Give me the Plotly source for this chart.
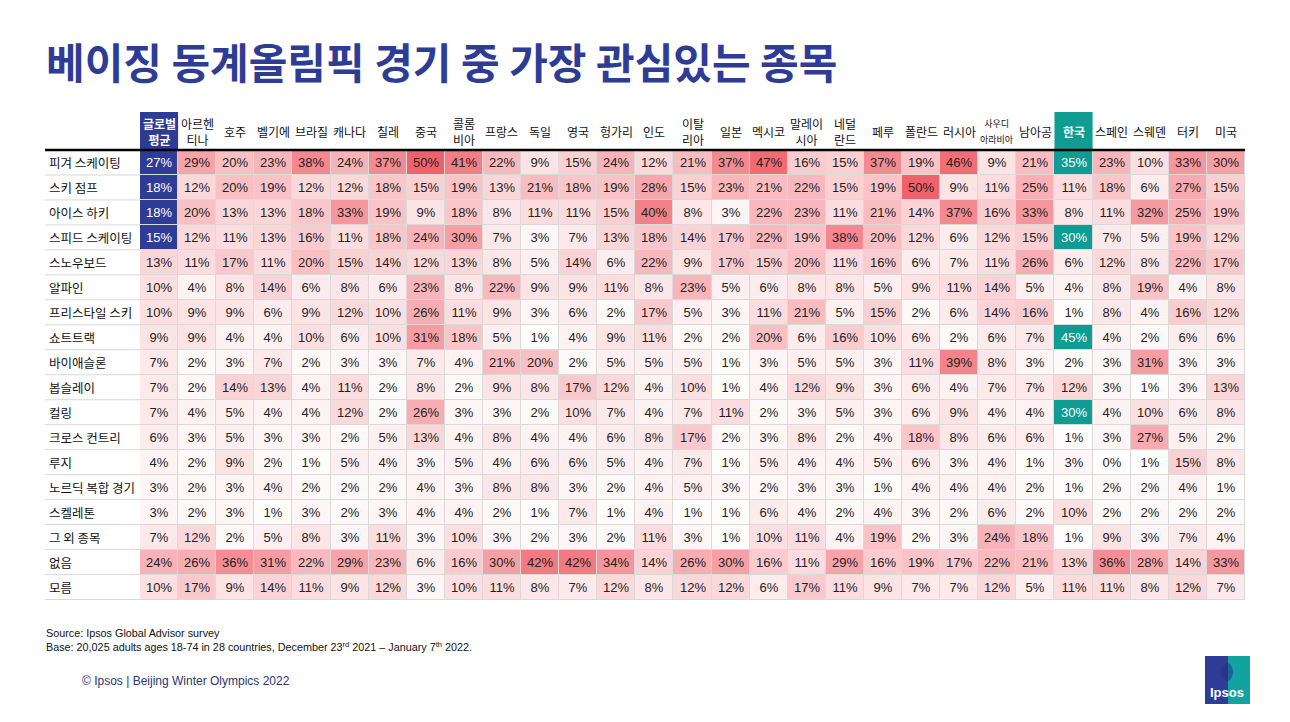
import plotly.graph_objects as go

# Columns (global average + 28 countries)
countries = ["글로벌 평균", "아르헨티나", "호주", "벨기에", "브라질", "캐나다", "칠레", "중국",
             "콜롬비아", "프랑스", "독일", "영국", "헝가리", "인도", "이탈리아", "일본",
             "멕시코", "말레이시아", "네덜란드", "페루", "폴란드", "러시아", "사우디아라비아",
             "남아공", "한국", "스페인", "스웨덴", "터키", "미국"]
header_labels = ["글로벌<br>평균", "아르헨<br>티나", "호주", "벨기에", "브라질", "캐나다", "칠레", "중국",
                 "콜롬<br>비아", "프랑스", "독일", "영국", "헝가리", "인도", "이탈<br>리아", "일본",
                 "멕시코", "말레이<br>시아", "네덜<br>란드", "페루", "폴란드", "러시아",
                 "<span style='font-size:9px'>사우디<br>아라비아</span>",
                 "남아공", "한국", "스페인", "스웨덴", "터키", "미국"]

sports = ["피겨 스케이팅", "스키 점프", "아이스 하키", "스피드 스케이팅", "스노우보드", "알파인",
          "프리스타일 스키", "쇼트트랙", "바이애슬론", "봅슬레이", "컬링", "크로스 컨트리", "루지",
          "노르딕 복합 경기", "스켈레톤", "그 외 종목", "없음", "모름"]

figure_skating = [27, 29, 20, 23, 38, 24, 37, 50, 41, 22, 9, 15, 24, 12, 21, 37, 47, 16, 15, 37, 19, 46, 9, 21, 35, 23, 10, 33, 30]
ski_jump = [18, 12, 20, 19, 12, 12, 18, 15, 19, 13, 21, 18, 19, 28, 15, 23, 21, 22, 15, 19, 50, 9, 11, 25, 11, 18, 6, 27, 15]
ice_hockey = [18, 20, 13, 13, 18, 33, 19, 9, 18, 8, 11, 11, 15, 40, 8, 3, 22, 23, 11, 21, 14, 37, 16, 33, 8, 11, 32, 25, 19]
speed_skating = [15, 12, 11, 13, 16, 11, 18, 24, 30, 7, 3, 7, 13, 18, 14, 17, 22, 19, 38, 20, 12, 6, 12, 15, 30, 7, 5, 19, 12]
snowboard = [13, 11, 17, 11, 20, 15, 14, 12, 13, 8, 5, 14, 6, 22, 9, 17, 15, 20, 11, 16, 6, 7, 11, 26, 6, 12, 8, 22, 17]
alpine = [10, 4, 8, 14, 6, 8, 6, 23, 8, 22, 9, 9, 11, 8, 23, 5, 6, 8, 8, 5, 9, 11, 14, 5, 4, 8, 19, 4, 8]
freestyle = [10, 9, 9, 6, 9, 12, 10, 26, 11, 9, 3, 6, 2, 17, 5, 3, 11, 21, 5, 15, 2, 6, 14, 16, 1, 8, 4, 16, 12]
short_track = [9, 9, 4, 4, 10, 6, 10, 31, 18, 5, 1, 4, 9, 11, 2, 2, 20, 6, 16, 10, 6, 2, 6, 7, 45, 4, 2, 6, 6]
biathlon = [7, 2, 3, 7, 2, 3, 3, 7, 4, 21, 20, 2, 5, 5, 5, 1, 3, 5, 5, 3, 11, 39, 8, 3, 2, 3, 31, 3, 3]
bobsleigh = [7, 2, 14, 13, 4, 11, 2, 8, 2, 9, 8, 17, 12, 4, 10, 1, 4, 12, 9, 3, 6, 4, 7, 7, 12, 3, 1, 3, 13]
curling = [7, 4, 5, 4, 4, 12, 2, 26, 3, 3, 2, 10, 7, 4, 7, 11, 2, 3, 5, 3, 6, 9, 4, 4, 30, 4, 10, 6, 8]
cross_country = [6, 3, 5, 3, 3, 2, 5, 13, 4, 8, 4, 4, 6, 8, 17, 2, 3, 8, 2, 4, 18, 8, 6, 6, 1, 3, 27, 5, 2]
luge = [4, 2, 9, 2, 1, 5, 4, 3, 5, 4, 6, 6, 5, 4, 7, 1, 5, 4, 4, 5, 6, 3, 4, 1, 3, 0, 1, 15, 8]
nordic_combined = [3, 2, 3, 4, 2, 2, 2, 4, 3, 8, 8, 3, 2, 4, 5, 3, 2, 3, 3, 1, 4, 4, 4, 2, 1, 2, 2, 4, 1]
skeleton = [3, 2, 3, 1, 3, 2, 3, 4, 4, 2, 1, 7, 1, 4, 1, 1, 6, 4, 2, 4, 3, 2, 6, 2, 10, 2, 2, 2, 2]
other = [7, 12, 2, 5, 8, 3, 11, 3, 10, 3, 2, 3, 2, 11, 3, 1, 10, 11, 4, 19, 2, 3, 24, 18, 1, 9, 3, 7, 4]
none_ = [24, 26, 36, 31, 22, 29, 23, 6, 16, 30, 42, 42, 34, 14, 26, 30, 16, 11, 29, 16, 19, 17, 22, 21, 13, 36, 28, 14, 33]
dont_know = [10, 17, 9, 14, 11, 9, 12, 3, 10, 11, 8, 7, 12, 8, 12, 12, 6, 17, 11, 9, 7, 7, 12, 5, 11, 11, 8, 12, 7]

values = [figure_skating, ski_jump, ice_hockey, speed_skating, snowboard, alpine, freestyle,
          short_track, biathlon, bobsleigh, curling, cross_country, luge, nordic_combined,
          skeleton, other, none_, dont_know]

# highlighted cells: top 4 of global average (blue) and of Korea (teal)
global_top = ["피겨 스케이팅", "스키 점프", "아이스 하키", "스피드 스케이팅"]
korea_top = ["피겨 스케이팅", "스피드 스케이팅", "쇼트트랙", "컬링"]

BLUE = "#2F3C96"
TEAL = "#0E9C93"
NUM_FONT = "Liberation Sans, Arial, sans-serif"
KR_FONT = "Noto Sans CJK KR, sans-serif"

# page body has an 8px margin, so the figure is laid out 8px in from the window edge
OFF = 8
W, H = 1290 - OFF, 722 - OFF
# plot area, in window pixels
L, R, T, B = 140, 1245, 150, 600


def px_x(px):
    return (px - L) / (R - L)


def px_y(py):
    return (B - py) / (B - T)


def highlight(col, top_rows):
    z, txt = [], []
    for s, row in zip(sports, values):
        v = row[countries.index(col)]
        zr = [None] * len(countries)
        tr = [""] * len(countries)
        if s in top_rows:
            zr[countries.index(col)] = 1
            tr[countries.index(col)] = f"{v}%"
        z.append(zr)
        txt.append(tr)
    return z, txt


fig = go.Figure()

fig.add_trace(go.Heatmap(
    z=values, x=countries, y=sports,
    zmin=0, zmax=50,
    colorscale=[[0, "#FFFFFF"], [1, "#F0616B"]],
    showscale=False, xgap=1, ygap=1,
    texttemplate="%{z}%", textfont=dict(family=NUM_FONT, size=13, color="#222222"),
    hoverinfo="skip",
))

for col, top_rows, color in [("글로벌 평균", global_top, BLUE), ("한국", korea_top, TEAL)]:
    hz, ht = highlight(col, top_rows)
    fig.add_trace(go.Heatmap(
        z=hz, x=countries, y=sports, text=ht,
        zmin=0, zmax=1, colorscale=[[0, color], [1, color]],
        showscale=False, xgap=1, ygap=1,
        texttemplate="%{text}", textfont=dict(family=NUM_FONT, size=13, color="white"),
        hoverinfo="skip",
    ))

shapes = []
annotations = []

# header boxes
for col, color in [("글로벌 평균", BLUE), ("한국", TEAL)]:
    i = countries.index(col)
    shapes.append(dict(type="rect", xref="x", yref="paper", x0=i - 0.5, x1=i + 0.5,
                       y0=1, y1=px_y(112), fillcolor=color, line=dict(width=0), layer="below"))

# header labels
for i, lab in enumerate(header_labels):
    white = countries[i] in ("글로벌 평균", "한국")
    annotations.append(dict(
        x=i, xref="x", y=px_y(131), yref="paper", text=f"<b>{lab}</b>" if white else lab,
        showarrow=False, xanchor="center", yanchor="middle",
        font=dict(family=KR_FONT, size=12, color="white" if white else "#111111"),
    ))

# row labels and row separators in the label column
for j, s in enumerate(sports):
    annotations.append(dict(
        x=px_x(47), xref="paper", y=j, yref="y", text=s, showarrow=False,
        xanchor="left", yanchor="middle", font=dict(family=KR_FONT, size=12.5, color="#111111"),
    ))
    shapes.append(dict(type="line", xref="paper", yref="y", x0=px_x(45), x1=0,
                       y0=j + 0.5, y1=j + 0.5, line=dict(color="#D9D9D9", width=1)))

# thick rule under header
shapes.append(dict(type="line", xref="paper", yref="paper", x0=px_x(45), x1=1, y0=1, y1=1,
                   line=dict(color="black", width=2.5)))

# title
annotations.append(dict(
    x=px_x(44), xref="paper", y=px_y(60), yref="paper",
    text="<b>베이징 동계올림픽 경기 중 가장 관심있는 종목</b>", showarrow=False,
    xanchor="left", yanchor="middle", font=dict(family=KR_FONT, size=42, color=BLUE),
))

# footnotes
annotations.append(dict(
    x=px_x(44), xref="paper", y=px_y(625), yref="paper", align="left",
    text="Source: Ipsos Global Advisor survey<br>"
         "Base: 20,025 adults ages 18-74 in 28 countries, December 23<sup>rd</sup> 2021 – January 7<sup>th</sup> 2022.",
    showarrow=False, xanchor="left", yanchor="top",
    font=dict(family=NUM_FONT, size=10.8, color="#111111"),
))
annotations.append(dict(
    x=px_x(80), xref="paper", y=px_y(681), yref="paper",
    text="© Ipsos | Beijing Winter Olympics 2022", showarrow=False,
    xanchor="left", yanchor="middle", font=dict(family=NUM_FONT, size=12, color="#2B3670"),
))

# Ipsos logo
shapes.append(dict(type="rect", xref="paper", yref="paper", x0=px_x(1205), x1=px_x(1228),
                   y0=px_y(704), y1=px_y(656), fillcolor=BLUE, line=dict(width=0)))
shapes.append(dict(type="rect", xref="paper", yref="paper", x0=px_x(1228), x1=px_x(1250),
                   y0=px_y(704), y1=px_y(656), fillcolor="#12A3A0", line=dict(width=0)))
shapes.append(dict(type="circle", xref="paper", yref="paper", x0=px_x(1221), x1=px_x(1233),
                   y0=px_y(681), y1=px_y(663), fillcolor="rgba(30,47,134,0.55)", line=dict(width=0)))
annotations.append(dict(
    x=px_x(1227), xref="paper", y=px_y(692), yref="paper", text="<b>Ipsos</b>",
    showarrow=False, xanchor="center", yanchor="middle",
    font=dict(family=NUM_FONT, size=13, color="white"),
))

fig.update_layout(
    width=W, height=H,
    margin=dict(l=L - OFF, r=1290 - R, t=T - OFF, b=722 - B),
    paper_bgcolor="white", plot_bgcolor="#DADADA",
    shapes=shapes, annotations=annotations,
    showlegend=False,
)
fig.update_xaxes(showticklabels=False, showgrid=False, zeroline=False, fixedrange=True)
fig.update_yaxes(showticklabels=False, showgrid=False, zeroline=False, autorange="reversed", fixedrange=True)

fig.write_html("out.html", config={"displayModeBar": False})
